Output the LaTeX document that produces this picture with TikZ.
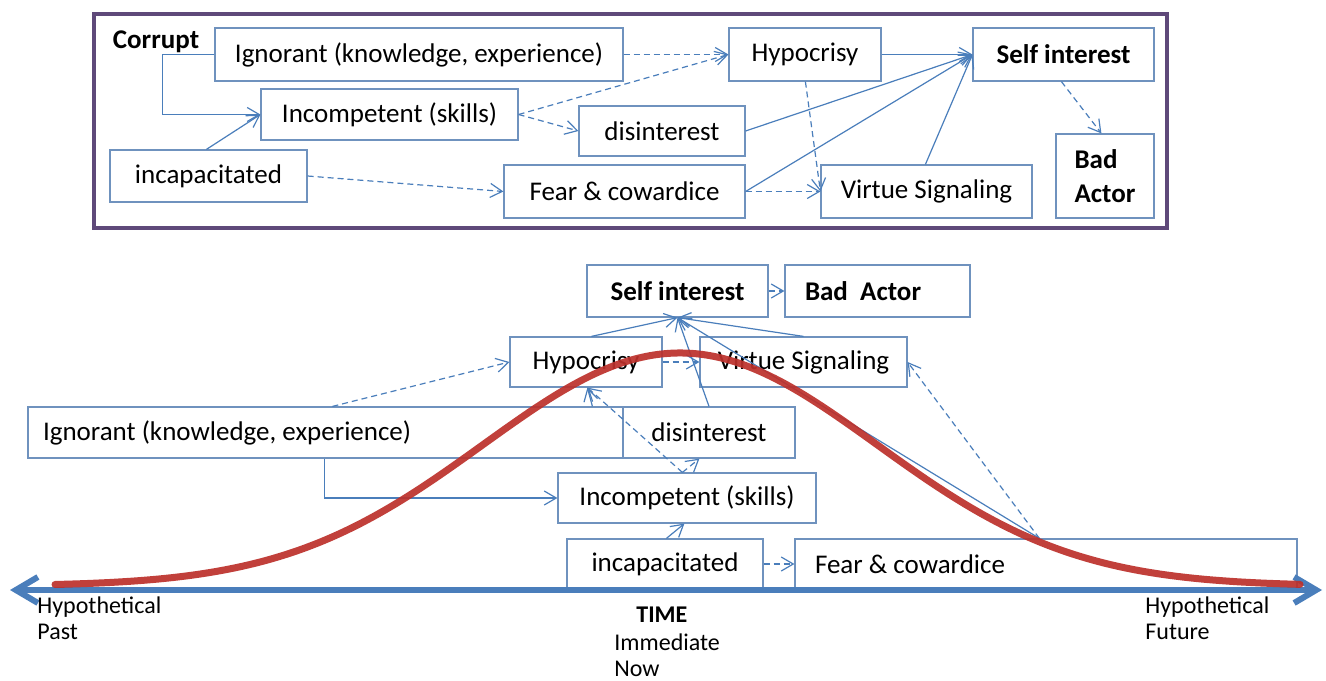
\documentclass[tikz,border=0pt]{standalone}
\usepackage{fontspec}
\setmainfont{Carlito}
\usetikzlibrary{arrows.meta,calc}
\definecolor{lineblue}{HTML}{4A7EBB}
\definecolor{boxblue}{HTML}{6F92BE}
\definecolor{framepurple}{HTML}{5F497A}
\definecolor{bellred}{RGB}{188,48,43}
\newcommand\mybox[7][]{\node[box,minimum width={(#5-#3)*0.5pt},minimum height={(#6-#4)*0.5pt},#1] (#2) at ({(#3+#5)/2},{(#4+#6)/2}) {#7};}
\begin{document}
\begin{tikzpicture}[x=0.5pt,y=-0.5pt,
  box/.style={draw=boxblue,line width=0.6pt,fill=white,inner sep=0pt,font=\fontsize{13.5}{16}\selectfont},
  conn/.style={draw=lineblue,line width=0.6pt,-{Straight Barb[length=6pt,width=7pt]}},
  dconn/.style={conn,dash pattern=on 3pt off 2pt},
  lbl/.style={inner sep=0pt,font=\fontsize{12}{13}\selectfont,anchor=base west}]
\useasboundingbox[fill=white] (0,0) rectangle (1326,680);

% ---------- top panel ----------
\draw[framepurple,line width=1.75pt] (94,14) rectangle (1167,228);
\node[inner sep=0pt,font=\fontsize{13.5}{16}\selectfont\bfseries] (corrupt) at (156,42) {Corrupt};
\mybox{ig1}{215}{28}{623}{81}{Ignorant (knowledge, experience)}
\mybox{ic1}{261}{89}{518}{140}{Incompetent (skills)}
\mybox{ica1}{110}{150}{307}{202}{incapacitated}
\mybox{di1}{579}{106}{745}{156}{disinterest}
\mybox{fc1}{504}{165}{745}{218}{Fear \& cowardice}
\mybox{hy1}{729}{28}{881}{81}{Hypocrisy}
\mybox[font=\fontsize{13.5}{16}\selectfont\bfseries]{si1}{973}{28}{1154}{81}{Self interest}
\mybox{vs1}{821}{165}{1032}{218}{Virtue Signaling}
\mybox[font=\fontsize{13.5}{17}\selectfont\bfseries,align=left]{ba1}{1056}{134}{1154}{218}{Bad\\Actor}

\draw[conn] (ig1.west) -- ++(-52,0) |- (ic1.west);
\draw[conn] ($(ica1.north west)+(97,0)$) -- (ic1.west);
\draw[dconn] (ica1.east) -- (fc1.west);
\draw[dconn] (ic1.east) -- (di1.west);
\draw[dconn] (ic1.east) -- (hy1.west);
\draw[dconn] (ig1.east) -- (hy1.west);
\draw[conn] (hy1.east) -- (si1.west);
\draw[conn] (di1.east) -- (si1.west);
\draw[conn] (fc1.east) -- (si1.west);
\draw[conn] ($(vs1.north west)+(105,0)$) -- (si1.west);
\draw[dconn] ($(hy1.south west)+(77,0)$) -- (vs1.west);
\draw[dconn] (fc1.east) -- (vs1.west);
\draw[dconn] ($(si1.south west)+(89,0)$) -- ($(ba1.north west)+(46,0)$);

% ---------- lower panel ----------
\mybox[font=\fontsize{13.5}{16}\selectfont\bfseries]{si2}{587}{265}{768}{317}{Self interest}
\mybox[font=\fontsize{13.5}{16}\selectfont\bfseries,align=flush left,text width=72.5pt,inner xsep=10pt]{ba2}{785}{265}{970}{317}{Bad\ \ Actor}
\mybox{hy2}{510}{337}{662}{387}{Hypocrisy}
\mybox{vs2}{700}{337}{907}{387}{Virtue Signaling}
\mybox[align=flush left,text width=282.5pt,inner xsep=7.5pt]{ig2}{28}{407}{623}{458}{Ignorant (knowledge, experience)}
\mybox{di2}{623}{407}{795}{458}{disinterest}
\mybox{ic2}{558}{473}{816}{523}{Incompetent (skills)}
\mybox{ica2}{567}{539}{763}{589}{incapacitated}
\mybox[align=flush left,text width=231pt,inner xsep=10pt]{fc2}{795}{539}{1297}{589}{Fear \& cowardice}

\draw[dconn] (si2.east) -- (ba2.west);
\draw[conn] ($(hy2.north west)+(82,0)$) -- (si2.south);
\draw[conn] (vs2.north) -- (si2.south);
\draw[conn] (di2.north) -- (si2.south);
\coordinate (fctop) at ($(fc2.north west)+(245,0)$);
\draw[conn] (fctop) -- (si2.south);
\draw[dconn] (fctop) -- (vs2.east);
\draw[dconn] (hy2.east) -- (vs2.west);
\draw[dconn] ($(ig2.north west)+(305,0)$) -- (hy2.west);
\draw[conn] ($(ig2.south west)+(297,0)$) |- (ic2.west);
\draw[conn] ($(ica2.north west)+(100,0)$) -- ($(ic2.south west)+(127,0)$);
\draw[dconn] (ica2.east) -- (fc2.west);
\coordinate (ictop) at ($(ic2.north west)+(125,0)$);
\draw[dconn] (ictop) -- ($(hy2.south west)+(78,0)$);
\draw[dconn] (ictop) -- ($(di2.south west)+(77,0)$);
\draw[conn] ($(ig2.north west)+(565,0)$) -- ($(hy2.south west)+(78,0)$);

% time axis
\coordinate (axL) at (10,590);
\coordinate (axR) at (1322,590);
\draw[lineblue,line width=3pt,{Straight Barb[length=11pt,width=13pt]}-{Straight Barb[length=11pt,width=13pt]}] (axL) -- (axR);

% bell curve
\draw[bellred,line width=3.5pt,opacity=0.92,line cap=round] plot[domain=55:1300,samples=160,smooth] (\x,{586-233*exp(-0.5*((\x-680)/197)^2)});

% axis labels
\node[lbl] (pastA) at (37,613) {Hypothetical};
\node[lbl] (pastB) at (37,639) {Past};
\node[lbl] (futA) at (1145,613) {Hypothetical};
\node[lbl] (futB) at (1145,639) {Future};
\node[lbl,font=\fontsize{12}{13}\selectfont\bfseries] (time) at (636,622) {TIME};
\node[lbl] (nowA) at (614,650) {Immediate};
\node[lbl] (nowB) at (614,676) {Now};
\end{tikzpicture}
\end{document}
